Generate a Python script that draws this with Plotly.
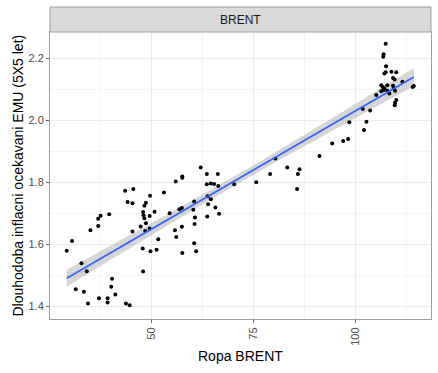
import numpy as np
import plotly.graph_objects as go

# Data (x = Ropa BRENT, y = long-term inflation expectations)
brent = [63.5, 66.2, 57.5, 57.5, 55.9, 63.5, 64.5, 65.3, 66.3, 70.2,
         43.5, 45.5, 53.0, 44.1, 45.3, 49.6, 48.6, 48.2, 63.7, 64.5,
         63.8, 60.4, 65.6, 66.5, 63.6, 57.4, 56.8, 54.4, 50.7, 47.9,
         48.0, 49.5, 48.2, 39.6, 37.5, 36.9, 48.6, 47.3, 49.5, 48.4,
         45.3, 36.9, 35.0, 60.6, 60.5, 57.4, 55.7, 56.0, 51.6, 60.4,
         60.9, 57.5, 51.2, 49.7, 47.8, 30.5, 29.2, 32.8, 34.1, 47.9,
         40.3, 40.1, 31.4, 33.4, 41.1, 37.1, 39.2, 39.2, 34.4, 43.7,
         44.6, 62.0, 60.2,
         75.6, 79.0, 85.8, 85.6, 86.2, 83.2, 80.3, 91.1, 94.2, 96.9,
         98.1, 98.4, 102.0, 102.6, 101.7, 103.5, 105.0, 106.2, 106.8, 107.0,
         107.7, 108.2, 109.6, 106.2, 106.6, 107.7, 109.1, 109.3, 109.9, 109.6,
         109.5, 111.4, 113.9, 114.2, 109.1, 109.5, 108.7, 109.9, 107.3, 107.0,
         107.4, 106.8, 106.7, 107.3]
inflation = [1.827, 1.827, 1.819, 1.815, 1.803, 1.794, 1.797, 1.795, 1.789, 1.794,
             1.773, 1.779, 1.768, 1.737, 1.733, 1.757, 1.735, 1.725, 1.756, 1.746,
             1.730, 1.739, 1.719, 1.699, 1.690, 1.718, 1.714, 1.701, 1.706, 1.705,
             1.694, 1.692, 1.685, 1.698, 1.693, 1.683, 1.669, 1.658, 1.652, 1.644,
             1.642, 1.660, 1.646, 1.687, 1.666, 1.657, 1.646, 1.624, 1.617, 1.604,
             1.578, 1.573, 1.583, 1.578, 1.587, 1.611, 1.580, 1.540, 1.514, 1.513,
             1.490, 1.464, 1.456, 1.448, 1.439, 1.427, 1.427, 1.413, 1.410, 1.410,
             1.404, 1.848, 1.712,
             1.801, 1.827, 1.827, 1.779, 1.843, 1.848, 1.877, 1.885, 1.926, 1.934,
             1.940, 1.994, 1.969, 1.996, 2.037, 2.032, 2.082, 2.094, 2.098, 2.103,
             2.096, 2.087, 2.096, 2.113, 2.108, 2.113, 2.112, 2.103, 2.066, 2.057,
             2.049, 2.125, 2.108, 2.111, 2.137, 2.132, 2.157, 2.155, 2.155, 2.151,
             2.175, 2.213, 2.205, 2.247]

facet_label = "BRENT"
x_title = "Ropa BRENT"
y_title = "Dlouhodoba inflacni ocekavani EMU (5X5 let)"
x_ticks = [50, 75, 100]
y_ticks = [1.4, 1.6, 1.8, 2.0, 2.2]

x = np.array(brent)
y = np.array(inflation)
n = len(x)
b1, b0 = np.polyfit(x, y, 1)
xs = np.linspace(x.min(), x.max(), 80)
ys = b0 + b1 * xs
resid = y - (b0 + b1 * x)
s = np.sqrt(np.sum(resid ** 2) / (n - 2))
sxx = np.sum((x - x.mean()) ** 2)
se = s * np.sqrt(1.0 / n + (xs - x.mean()) ** 2 / sxx)
tq = 1.98
lo = ys - tq * se
hi = ys + tq * se

fig = go.Figure()
fig.add_trace(go.Scatter(x=np.concatenate([xs, xs[::-1]]), y=np.concatenate([hi, lo[::-1]]),
                         fill="toself", fillcolor="rgba(153,153,153,0.4)",
                         line=dict(width=0), hoverinfo="skip", showlegend=False))
fig.add_trace(go.Scatter(x=x, y=y, mode="markers",
                         marker=dict(color="black", size=4), showlegend=False))
fig.add_trace(go.Scatter(x=xs, y=ys, mode="lines",
                         line=dict(color="#3366FF", width=1.8), showlegend=False))

W, H = 438, 373
ML, MR, MT, MB = 50, 7, 7, 54
pw, ph = W - ML - MR, H - MT - MB
dom_top = 287 / ph
border = "#9E9E9E"
fig.update_layout(
    width=W, height=H,
    margin=dict(l=ML, r=MR, t=MT, b=MB),
    paper_bgcolor="white", plot_bgcolor="white",
    font=dict(family="Liberation Sans, Arial, sans-serif"),
    xaxis=dict(range=[25.1, 118.4], tickvals=x_ticks, ticktext=[str(v) for v in x_ticks],
               tickangle=-90, ticks="outside", ticklen=3, tickcolor="#666666",
               tickfont=dict(size=11, color="#4D4D4D"), automargin=False,
               showgrid=True, gridcolor="#EBEBEB", gridwidth=1.1,
               minor=dict(dtick=12.5, tick0=0, showgrid=True, gridcolor="#F4F4F4", gridwidth=0.6),
               zeroline=False, showline=True, linecolor=border, mirror=True, linewidth=1),
    yaxis=dict(range=[1.36, 2.285], domain=[0, dom_top], tickvals=y_ticks,
               ticktext=["%.1f" % v for v in y_ticks],
               ticks="outside", ticklen=3, tickcolor="#666666",
               tickfont=dict(size=11, color="#4D4D4D"), automargin=False,
               showgrid=True, gridcolor="#EBEBEB", gridwidth=1.1,
               minor=dict(dtick=0.1, tick0=0, showgrid=True, gridcolor="#F4F4F4", gridwidth=0.6),
               zeroline=False, showline=True, linecolor=border, mirror=True, linewidth=1),
    shapes=[dict(type="rect", xref="paper", yref="paper", x0=0, x1=1, y0=dom_top, y1=1.0,
                 fillcolor="#D9D9D9", line=dict(color=border, width=1))],
    annotations=[
        dict(text=facet_label, xref="paper", yref="paper", x=0.5,
             y=(dom_top + 1) / 2, showarrow=False,
             font=dict(size=12, color="#1A1A1A"), yanchor="middle"),
        dict(text=x_title, xref="paper", yref="paper", x=0.5, y=(H - MB - 356) / ph,
             showarrow=False, font=dict(size=14, color="black"),
             xanchor="center", yanchor="middle"),
        dict(text=y_title, xref="paper", yref="paper", x=(17 - ML) / pw,
             y=(H - MB - 175.5) / ph, showarrow=False, textangle=-90,
             font=dict(size=14, color="black"), xanchor="center", yanchor="middle"),
    ],
)
fig.write_html("out.html", config={"displayModeBar": False},
               post_script="document.body.style.margin='0';")
